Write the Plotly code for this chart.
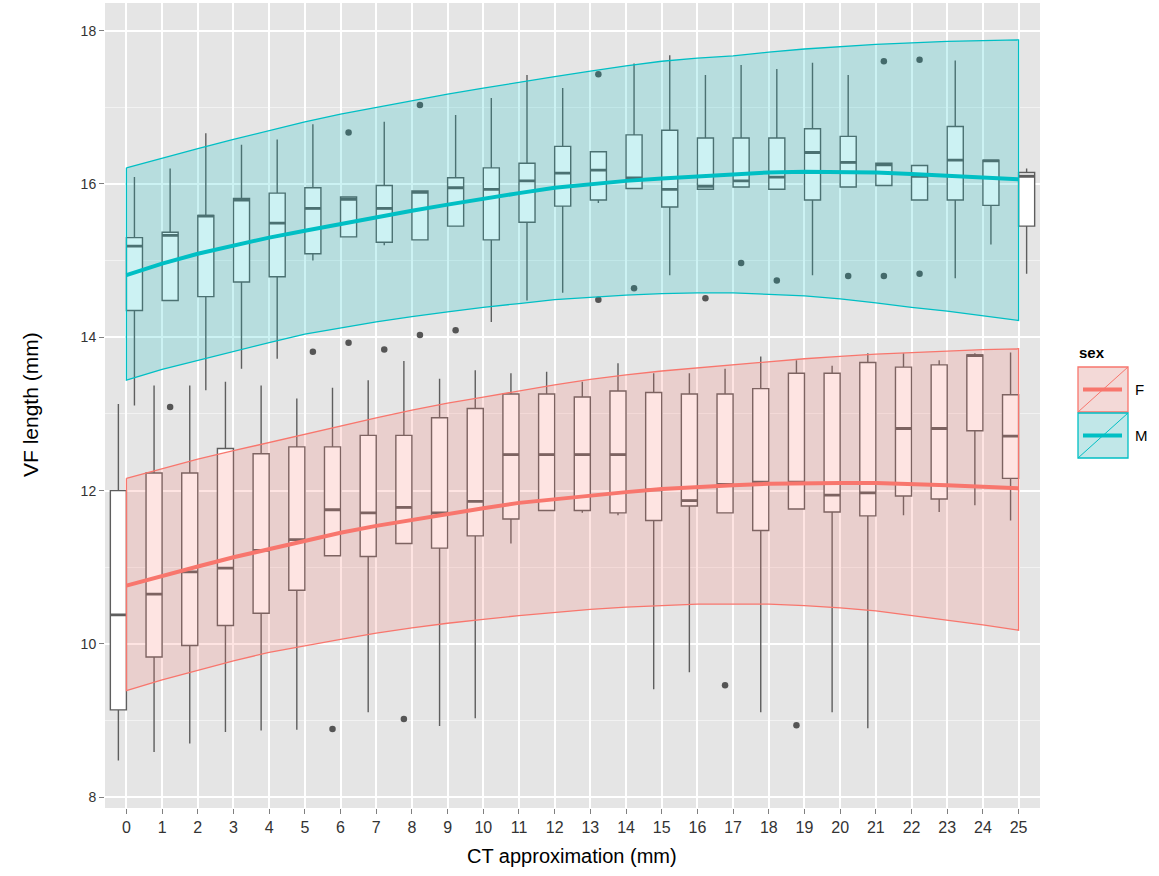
import plotly.graph_objects as go

# ---------------- data ----------------
ct = list(range(26))
tick_text = [str(c) for c in ct]

# Female boxplot statistics
f_low = [8.48, 8.59, 8.70, 8.85, 8.87, 8.88, 11.15, 9.11, 11.31, 8.93, 9.03, 11.31, 11.74,
         11.71, 11.68, 9.41, 9.63, 11.71, 9.11, 11.76, 9.11, 8.90, 11.68, 11.72, 11.81, 11.61]
f_q1 = [9.14, 9.83, 9.98, 10.24, 10.40, 10.70, 11.15, 11.14, 11.31, 11.25, 11.41, 11.63, 11.74,
        11.74, 11.71, 11.61, 11.80, 11.71, 11.48, 11.76, 11.72, 11.67, 11.93, 11.89, 12.78, 12.16]
f_med = [10.38, 10.65, 10.94, 10.99, 11.22, 11.36, 11.75, 11.71, 11.78, 11.71, 11.86, 12.47, 12.47,
         12.47, 12.47, 12.01, 11.87, 12.08, 12.11, 12.11, 11.94, 11.97, 12.81, 12.81, 13.76, 12.71]
f_q3 = [12.00, 12.23, 12.23, 12.55, 12.48, 12.57, 12.57, 12.72, 12.72, 12.95, 13.07, 13.26, 13.26,
        13.22, 13.30, 13.28, 13.26, 13.26, 13.33, 13.53, 13.53, 13.67, 13.61, 13.64, 13.77, 13.25]
f_high = [13.13, 13.37, 13.37, 13.42, 13.37, 13.20, 13.34, 13.44, 13.69, 13.46, 13.57, 13.53, 13.55,
          13.42, 13.66, 13.53, 13.53, 13.59, 13.75, 13.70, 13.63, 13.79, 13.79, 13.70, 13.79, 13.80]
f_out_x = [6, 8, 17, 19]
f_out_y = [8.89, 9.02, 9.46, 8.94]

# Male boxplot statistics
m_low = [13.11, 14.48, 13.31, 13.59, 13.72, 15.00, 15.31, 15.20, 15.27, 15.45, 14.20, 14.48, 14.58,
         15.75, 15.94, 14.81, 15.93, 15.96, 15.93, 14.81, 15.96, 15.98, 15.79, 14.77, 15.21, 14.83]
m_q1 = [14.35, 14.48, 14.53, 14.72, 14.79, 15.09, 15.31, 15.24, 15.27, 15.45, 15.27, 15.50, 15.71,
        15.79, 15.94, 15.70, 15.93, 15.96, 15.93, 15.79, 15.96, 15.98, 15.79, 15.79, 15.72, 15.45]
m_med = [15.19, 15.33, 15.58, 15.79, 15.49, 15.68, 15.80, 15.68, 15.89, 15.95, 15.93, 16.04, 16.14,
         16.18, 16.08, 15.93, 15.97, 16.04, 16.09, 16.41, 16.28, 16.25, 16.10, 16.31, 16.30, 16.10]
m_q3 = [15.30, 15.37, 15.59, 15.81, 15.88, 15.95, 15.83, 15.98, 15.91, 16.08, 16.21, 16.27, 16.49,
        16.42, 16.64, 16.70, 16.60, 16.60, 16.60, 16.72, 16.62, 16.27, 16.24, 16.75, 16.31, 16.15]
m_high = [16.09, 16.20, 16.66, 16.51, 16.58, 16.78, 15.83, 16.81, 15.91, 16.90, 17.12, 17.42, 17.25,
          16.42, 17.57, 17.68, 17.42, 17.55, 17.50, 17.58, 17.42, 16.27, 16.24, 17.61, 16.31, 16.20]
m_out_x = [1, 5, 6, 6, 7, 8, 8, 9, 13, 13, 14, 16, 17, 18, 20, 21, 21, 22, 22]
m_out_y = [13.09, 13.81, 16.67, 13.93, 13.84, 17.03, 14.03, 14.09, 17.43, 14.49, 14.64, 14.51,
           14.97, 14.74, 14.80, 17.60, 14.80, 17.62, 14.83]

# Smoothed fits with bands
f_fit = [10.76, 10.89, 11.01, 11.13, 11.24, 11.35, 11.45, 11.54, 11.62, 11.70, 11.77, 11.84, 11.89,
         11.94, 11.98, 12.02, 12.05, 12.07, 12.09, 12.10, 12.10, 12.10, 12.09, 12.07, 12.05, 12.03]
f_upper = [12.16, 12.29, 12.41, 12.52, 12.63, 12.74, 12.85, 12.95, 13.05, 13.14, 13.22, 13.30, 13.38,
           13.45, 13.51, 13.56, 13.60, 13.64, 13.68, 13.72, 13.75, 13.78, 13.80, 13.82, 13.84, 13.85]
f_lower = [9.39, 9.53, 9.66, 9.78, 9.89, 9.98, 10.06, 10.14, 10.21, 10.27, 10.32, 10.37, 10.41,
           10.45, 10.48, 10.50, 10.52, 10.52, 10.52, 10.50, 10.47, 10.43, 10.37, 10.31, 10.25, 10.18]
m_fit = [14.81, 14.96, 15.09, 15.20, 15.30, 15.39, 15.48, 15.56, 15.65, 15.73, 15.81, 15.88, 15.95,
         16.00, 16.04, 16.07, 16.10, 16.12, 16.15, 16.16, 16.16, 16.15, 16.13, 16.11, 16.08, 16.06]
m_upper = [16.21, 16.34, 16.46, 16.58, 16.70, 16.81, 16.91, 17.00, 17.09, 17.17, 17.25, 17.33, 17.40,
           17.47, 17.54, 17.60, 17.64, 17.67, 17.72, 17.76, 17.79, 17.82, 17.84, 17.86, 17.87, 17.88]
m_lower = [13.44, 13.58, 13.70, 13.81, 13.93, 14.04, 14.12, 14.20, 14.27, 14.33, 14.39, 14.44, 14.49,
           14.52, 14.55, 14.57, 14.58, 14.58, 14.56, 14.54, 14.50, 14.45, 14.39, 14.34, 14.28, 14.22]

y_ticks = [8, 10, 12, 14, 16, 18]

# ---------------- style ----------------
F_COL = "#F8766D"
M_COL = "#00BFC4"
F_FILL = "rgba(248,118,109,0.2)"
M_FILL = "rgba(0,191,196,0.2)"
BOX_LINE = "#5E5E5E"
FONT = "Liberation Sans, Arial, sans-serif"
BOXGAP = 0.1
HALF_OFFSET = (1 - BOXGAP) / 4  # centre offset of each dodged box

fig = go.Figure()


def add_boxes(name, low, q1, med, q3, high, group):
    fig.add_trace(go.Box(
        x=ct, q1=q1, median=med, q3=q3, lowerfence=low, upperfence=high,
        name=name, offsetgroup=group, alignmentgroup="all",
        fillcolor="white", line=dict(color=BOX_LINE, width=1.4),
        whiskerwidth=0, boxpoints=False, showlegend=False, hoverinfo="skip"))


def add_medians(name, med, group):
    fig.add_trace(go.Box(
        x=ct, q1=med, median=med, q3=med, lowerfence=med, upperfence=med,
        name=name + " median", offsetgroup=group, alignmentgroup="all",
        fillcolor="rgba(0,0,0,0)", line=dict(color=BOX_LINE, width=2.8),
        whiskerwidth=0, boxpoints=False, showlegend=False, hoverinfo="skip"))


add_boxes("F", f_low, f_q1, f_med, f_q3, f_high, "F")
add_boxes("M", m_low, m_q1, m_med, m_q3, m_high, "M")
add_medians("F", f_med, "F")
add_medians("M", m_med, "M")

# outliers
fig.add_trace(go.Scatter(
    x=[c - HALF_OFFSET for c in f_out_x], y=f_out_y, mode="markers",
    marker=dict(color="#555555", size=6.5), showlegend=False, hoverinfo="skip"))
fig.add_trace(go.Scatter(
    x=[c + HALF_OFFSET for c in m_out_x], y=m_out_y, mode="markers",
    marker=dict(color="#555555", size=6.5), showlegend=False, hoverinfo="skip"))

# ribbons
for up, lo, col, fill in [(f_upper, f_lower, F_COL, F_FILL), (m_upper, m_lower, M_COL, M_FILL)]:
    fig.add_trace(go.Scatter(
        x=ct + ct[::-1] + [ct[0]], y=up + lo[::-1] + [up[0]],
        mode="lines", fill="toself", fillcolor=fill,
        line=dict(color=col, width=1.3), showlegend=False, hoverinfo="skip"))

# fitted lines
fig.add_trace(go.Scatter(x=ct, y=f_fit, mode="lines", line=dict(color=F_COL, width=4),
                         showlegend=False, hoverinfo="skip"))
fig.add_trace(go.Scatter(x=ct, y=m_fit, mode="lines", line=dict(color=M_COL, width=4),
                         showlegend=False, hoverinfo="skip"))

# ---------------- layout ----------------
L, R, T, B = 105, 1040, 3, 808
W, H = R - L, B - T


def px(x):
    return (x - L) / W


def py(y):
    return (B - y) / H


shapes = []
annotations = []
for (y0, y1, col, fill, lab) in [(367, 412, F_COL, F_FILL, "F"), (413, 458, M_COL, M_FILL, "M")]:
    shapes.append(dict(type="rect", xref="paper", yref="paper", x0=px(1078), x1=px(1128),
                       y0=py(y1), y1=py(y0), fillcolor="#F2F2F2", line=dict(width=0), layer="above"))
    shapes.append(dict(type="rect", xref="paper", yref="paper", x0=px(1078), x1=px(1128),
                       y0=py(y1), y1=py(y0), fillcolor=fill, line=dict(color=col, width=1.3),
                       layer="above"))
    shapes.append(dict(type="line", xref="paper", yref="paper", x0=px(1078), x1=px(1128),
                       y0=py(y1), y1=py(y0), line=dict(color=col, width=1), layer="above"))
    ym = (y0 + y1) / 2
    shapes.append(dict(type="line", xref="paper", yref="paper", x0=px(1083), x1=px(1122),
                       y0=py(ym), y1=py(ym), line=dict(color=col, width=4), layer="above"))
    annotations.append(dict(xref="paper", yref="paper", x=px(1133), y=py(ym), text=lab,
                            showarrow=False, xanchor="left", yanchor="middle",
                            font=dict(family=FONT, size=15, color="black")))

annotations.append(dict(xref="paper", yref="paper", x=px(1077), y=py(352), text="<b>sex</b>",
                        showarrow=False, xanchor="left", yanchor="middle",
                        font=dict(family=FONT, size=15, color="black")))
annotations.append(dict(xref="paper", yref="paper", x=px(572), y=py(856),
                        text="CT approximation (mm)", showarrow=False,
                        xanchor="center", yanchor="middle",
                        font=dict(family=FONT, size=20, color="black")))
annotations.append(dict(xref="paper", yref="paper", x=px(30), y=py(405),
                        text="VF length (mm)", showarrow=False, textangle=-90,
                        xanchor="center", yanchor="middle",
                        font=dict(family=FONT, size=21, color="black")))

fig.update_layout(
    width=1159, height=876,
    margin=dict(l=L, r=1159 - R, t=T, b=876 - B),
    paper_bgcolor="white", plot_bgcolor="#E5E5E5",
    boxmode="group", boxgap=BOXGAP, boxgroupgap=0,
    showlegend=False,
    shapes=shapes, annotations=annotations,
    xaxis=dict(range=[-0.6, 25.6], tickmode="array", tickvals=ct, ticktext=tick_text,
               showgrid=True, gridcolor="white", gridwidth=1.5, zeroline=False,
               ticks="outside", ticklen=5, tickcolor="#7F7F7F", tickwidth=1,
               tickfont=dict(family=FONT, size=16, color="#333333"),
               showline=False, automargin=False),
    yaxis=dict(range=[7.86, 18.36], tickmode="array", tickvals=y_ticks,
               showgrid=True, gridcolor="white", gridwidth=1.5, zeroline=False,
               ticks="outside", ticklen=5, tickcolor="#7F7F7F", tickwidth=1,
               tickfont=dict(family=FONT, size=14, color="#333333"),
               minor=dict(dtick=1, tick0=0, showgrid=True, gridcolor="#F2F2F2", gridwidth=0.8),
               showline=False, automargin=False),
)

page_fix = ("document.body.style.margin='0';document.body.style.padding='0';"
            "document.body.style.overflow='hidden';"
            "document.documentElement.style.overflow='hidden';")
fig.write_html("out.html", config={"displayModeBar": False}, post_script=page_fix)
